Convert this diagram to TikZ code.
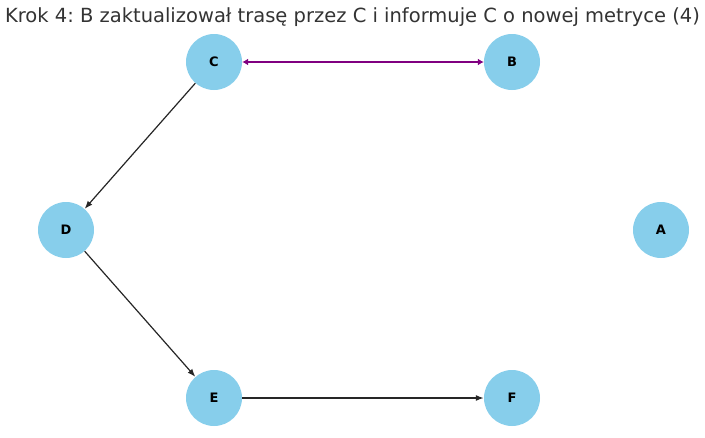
\documentclass[tikz,border=0pt]{standalone}
\usepackage{fontspec}
\setmainfont{DejaVu Sans}
\usepackage{tikz}
\usetikzlibrary{arrows.meta}
\definecolor{nodeblue}{HTML}{87CEEB}
\definecolor{routepurple}{HTML}{800080}
\definecolor{titlegray}{HTML}{333333}
\frenchspacing

\begin{document}
\begin{tikzpicture}[x=1pt,y=-1pt,->,>={Latex[length=8pt,width=6pt]},
				main node/.style={circle,fill=nodeblue,minimum size=56pt,inner sep=0pt,font=\bfseries\fontsize{13}{15}\selectfont},
				plain edge/.style={black!85,line width=1.2pt},
				route edge/.style={<->,routepurple,line width=2.6pt,>={Latex[length=6pt,width=7pt]}}]
				
				\useasboundingbox (0,0) rectangle (705,437);
				
				\node[anchor=base,text=titlegray,font=\fontsize{19.5}{22}\selectfont] (title) at (352.5,22) {Krok 4: B zaktualizował trasę przez C i informuje C o nowej metryce (4)};
				
				\node[main node] (C) at (214,62) {C};
				\node[main node] (B) at (512,62) {B};
				\node[main node] (D) at (66,230) {D};
				\node[main node] (A) at (661,230) {A};
				\node[main node] (E) at (214,398) {E};
				\node[main node] (F) at (512,398) {F};
				
				\path
				
				(C) edge [route edge] (B)
				(C) edge [plain edge] (D)
				(D) edge [plain edge] (E)
				(E) edge [plain edge] (F);
				
				\end{tikzpicture}
\end{document}
